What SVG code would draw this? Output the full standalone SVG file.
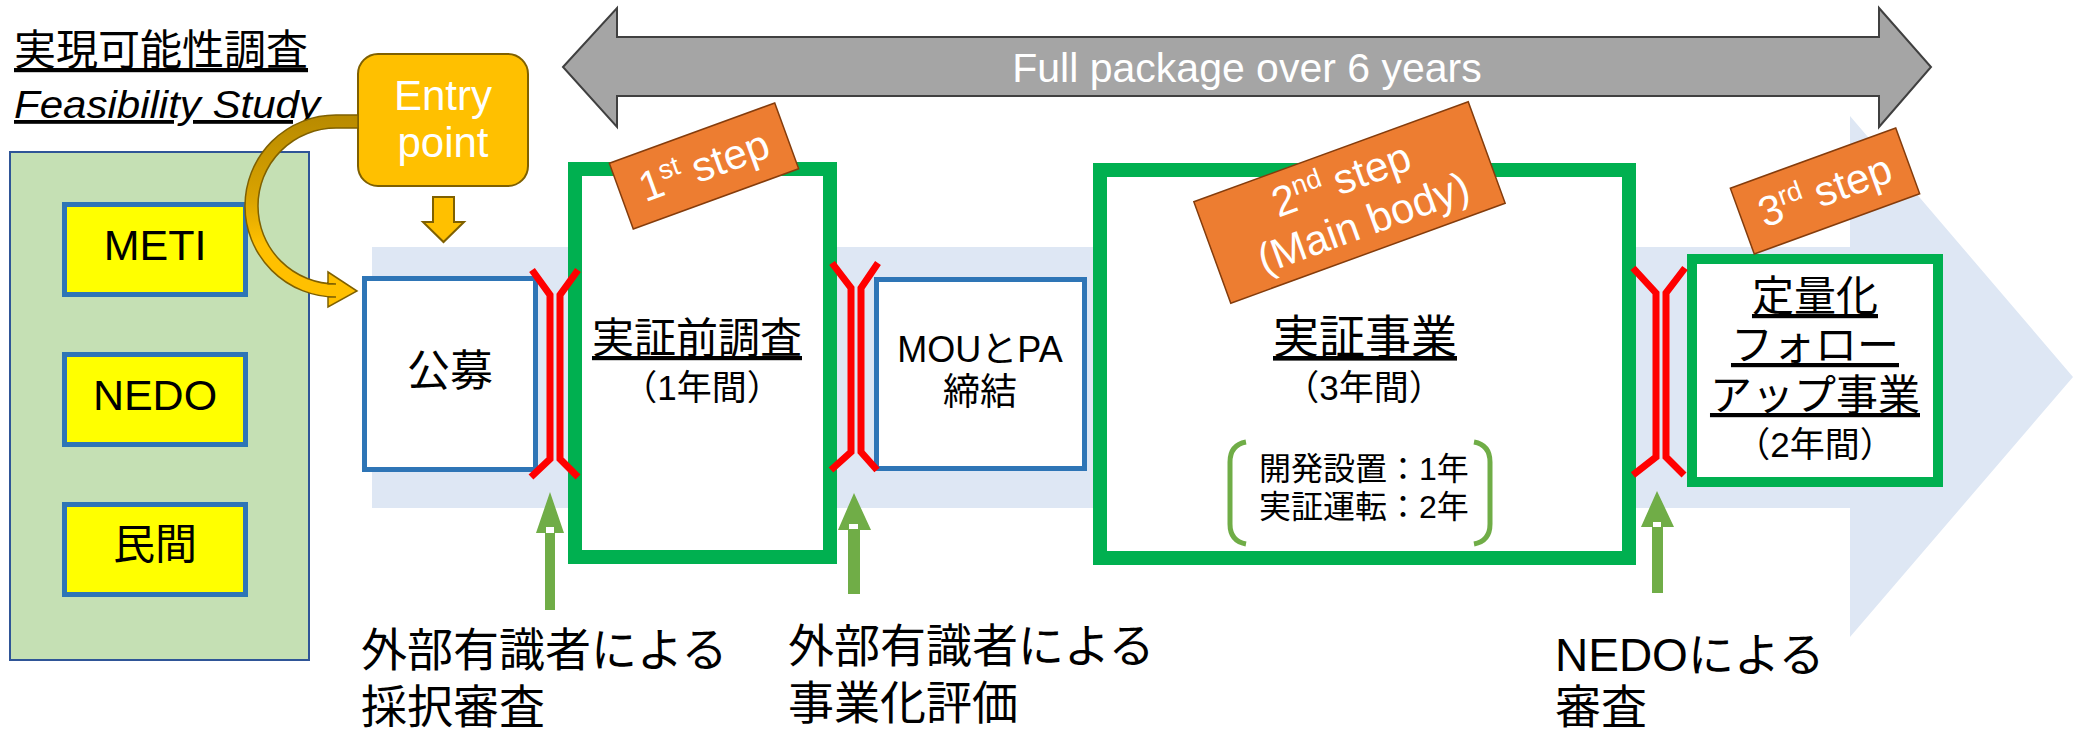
<svg xmlns="http://www.w3.org/2000/svg" width="2078" height="734" viewBox="0 0 2078 734">
<defs>
<style>
.cjk{font-family:"Noto Sans CJK JP","Noto Sans CJK SC",sans-serif;fill:#000}
.lat{font-family:"Liberation Sans","Noto Sans CJK JP",sans-serif;fill:#000}
.ul{text-decoration:underline}
.ybox{fill:#FFFF00;stroke:#2E75B6;stroke-width:5}
.bbox{fill:#FFFFFF;stroke:#2E75B6;stroke-width:5}
.gbox{fill:#FFFFFF;stroke:#00B050;stroke-width:14}
.tag{fill:#ED7D31;stroke:#843C0C;stroke-width:1.5}
.tagt{font-family:"Liberation Sans",sans-serif;fill:#FFFFFF;font-size:42px}
.gate{fill:none;stroke:#FF0000;stroke-width:7}
.up{fill:#70AD47}
.paren{fill:none;stroke:#70AD47;stroke-width:5}
</style>
<linearGradient id="gold" x1="0" y1="115" x2="0" y2="300" gradientUnits="userSpaceOnUse">
<stop offset="0" stop-color="#B88A00"/>
<stop offset="0.45" stop-color="#D9A300"/>
<stop offset="0.7" stop-color="#FFC000"/>
<stop offset="1" stop-color="#FFC000"/>
</linearGradient>
</defs>
<rect width="2078" height="734" fill="#FFFFFF"/>

<g id="flow-band">
<path d="M372 247 L1850 247 L1850 116 L2073 377 L1850 637 L1850 508 L372 508 Z" fill="#DEE7F4"/>
</g>

<g id="title">
<text class="cjk ul" x="14" y="65" font-size="42">実現可能性調査</text>
<text class="lat ul" x="14" y="118" font-size="38" font-style="italic" textLength="306" lengthAdjust="spacingAndGlyphs">Feasibility Study</text>
</g>

<g id="feasibility-panel">
<rect x="10" y="152" width="299" height="508" fill="#C5E0B4" stroke="#2F5597" stroke-width="2"/>
</g>
<g id="node-meti">
<rect class="ybox" x="64.5" y="204.5" width="181" height="90"/>
<text class="lat" x="155" y="260" font-size="43" text-anchor="middle">METI</text>
</g>
<g id="node-nedo">
<rect class="ybox" x="64.5" y="354.5" width="181" height="90"/>
<text class="lat" x="155" y="410" font-size="43" text-anchor="middle">NEDO</text>
</g>
<g id="node-minkan">
<rect class="ybox" x="64.5" y="504.5" width="181" height="90"/>
<text class="cjk" x="155" y="559" font-size="42" text-anchor="middle">民間</text>
</g>

<g id="full-package">
<path d="M563 67 L617 8 L617 37 L1879 37 L1879 8 L1931 67 L1879 127 L1879 96 L617 96 L617 127 Z" fill="#A5A5A5" stroke="#404040" stroke-width="2" stroke-linejoin="miter"/>
<text class="lat" x="1247" y="82" font-size="41" text-anchor="middle" style="fill:#FFFFFF">Full package over 6 years</text>
</g>

<g id="node-entry">
<rect x="358" y="54" width="170" height="132" rx="20" fill="#FFC000" stroke="#7F6000" stroke-width="2"/>
<text class="lat" x="443" y="110" font-size="42" text-anchor="middle" style="fill:#FFFFFF">Entry</text>
<text class="lat" x="443" y="157" font-size="42" text-anchor="middle" style="fill:#FFFFFF">point</text>
</g>

<g id="node-koubo">
<rect class="bbox" x="364.5" y="278.5" width="171" height="191"/>
<text class="cjk" x="450" y="386" font-size="43" text-anchor="middle">公募</text>
</g>

<g id="node-step1">
<rect class="gbox" x="575" y="169" width="255" height="388"/>
<text class="cjk ul" x="697" y="353" font-size="42" text-anchor="middle">実証前調査</text>
<text class="lat" x="702" y="400" font-size="35" text-anchor="middle">（1年間）</text>
</g>

<g id="node-mou">
<rect class="bbox" x="876.5" y="279.5" width="208" height="189"/>
<text class="lat" x="980" y="362" font-size="36" text-anchor="middle">MOUとPA</text>
<text class="cjk" x="980" y="405" font-size="37" text-anchor="middle">締結</text>
</g>

<g id="node-step2">
<rect class="gbox" x="1100" y="170" width="529" height="388"/>
<text class="cjk ul" x="1365" y="353" font-size="46" text-anchor="middle">実証事業</text>
<text class="lat" x="1364" y="400" font-size="35" text-anchor="middle">（3年間）</text>
<path class="paren" d="M1246 442 Q1230 445 1230 462 L1230 524 Q1230 541 1246 544"/>
<path class="paren" d="M1474 442 Q1490 445 1490 462 L1490 524 Q1490 541 1474 544"/>
<text class="lat" x="1259" y="480" font-size="32">開発設置：1年</text>
<text class="lat" x="1259" y="518" font-size="32">実証運転：2年</text>
</g>

<g id="node-step3">
<rect x="1692" y="259" width="246" height="223" fill="#FFFFFF" stroke="#00B050" stroke-width="10"/>
<text class="cjk ul" x="1815" y="311" font-size="42" text-anchor="middle">定量化</text>
<text class="cjk ul" x="1815" y="360" font-size="42" text-anchor="middle">フォロー</text>
<text class="cjk ul" x="1815" y="410" font-size="42" text-anchor="middle">アップ事業</text>
<text class="lat" x="1815" y="457" font-size="35" text-anchor="middle">（2年間）</text>
</g>

<g id="gates">
<path class="gate" d="M532 270 L550 295 L550 459 L531 477"/>
<path class="gate" d="M578 270 L560 295 L560 459 L578 477"/>
<path class="gate" d="M832 263 L851 288 L851 452 L831 470"/>
<path class="gate" d="M878 263 L861 288 L861 452 L877 470"/>
<path class="gate" d="M1633 268 L1656 293 L1656 457 L1633 475"/>
<path class="gate" d="M1685 268 L1666 293 L1666 457 L1684 475"/>
</g>

<g id="connectors">
<path d="M433 197 L454 197 L454 222 L464 222 L443.5 242 L423 222 L433 222 Z" fill="#FFC000" stroke="#7F6000" stroke-width="2"/>
<path d="M358 115 L336 115 A91 91 0 0 0 336 297 L328 297 L328 307 L357 291 L328 272 L328 284 L336 284 A78 78 0 0 1 336 128 L358 128 Z" fill="url(#gold)" stroke="#7F6000" stroke-width="1.5"/>
<g class="up">
<path d="M550 492 L564 533 L555 533 L555 610 L545 610 L545 533 L536 533 Z"/>
<path d="M854 493 L871 530 L860 530 L860 594 L848 594 L848 530 L838 530 Z"/>
<path d="M1657 491 L1674 527 L1663 527 L1663 593 L1652 593 L1652 527 L1641 527 Z"/>
</g>
<rect x="546" y="527" width="8" height="6" fill="#FFFFFF"/>
<rect x="849" y="524" width="9" height="5" fill="#FFFFFF"/>
<rect x="1653" y="522" width="8" height="5" fill="#FFFFFF"/>
</g>

<g id="label-step1" transform="translate(704,166) rotate(-20)">
<rect class="tag" x="-88" y="-35" width="176" height="70"/>
<text class="tagt" x="0" y="14" text-anchor="middle">1<tspan font-size="27" dy="-15">st</tspan><tspan dy="15"> step</tspan></text>
</g>
<g id="label-step2" transform="translate(1349.5,202.5) rotate(-20)">
<rect class="tag" x="-146" y="-54" width="292" height="108"/>
<text class="tagt" x="0" y="-10" text-anchor="middle">2<tspan font-size="27" dy="-15">nd</tspan><tspan dy="15"> step</tspan></text>
<text class="tagt" x="6" y="38" text-anchor="middle">(Main body)</text>
</g>
<g id="label-step3" transform="translate(1825,191) rotate(-20)">
<rect class="tag" x="-88" y="-35" width="176" height="70"/>
<text class="tagt" x="0" y="14" text-anchor="middle">3<tspan font-size="27" dy="-15">rd</tspan><tspan dy="15"> step</tspan></text>
</g>

<g id="review-labels">
<text class="cjk" x="361" y="666" font-size="46">外部有識者による</text>
<text class="cjk" x="361" y="723" font-size="46">採択審査</text>
<text class="cjk" x="788" y="662" font-size="46">外部有識者による</text>
<text class="cjk" x="788" y="719" font-size="46">事業化評価</text>
<text class="lat" x="1555" y="671" font-size="46">NEDOによる</text>
<text class="cjk" x="1555" y="723" font-size="46">審査</text>
</g>
</svg>
